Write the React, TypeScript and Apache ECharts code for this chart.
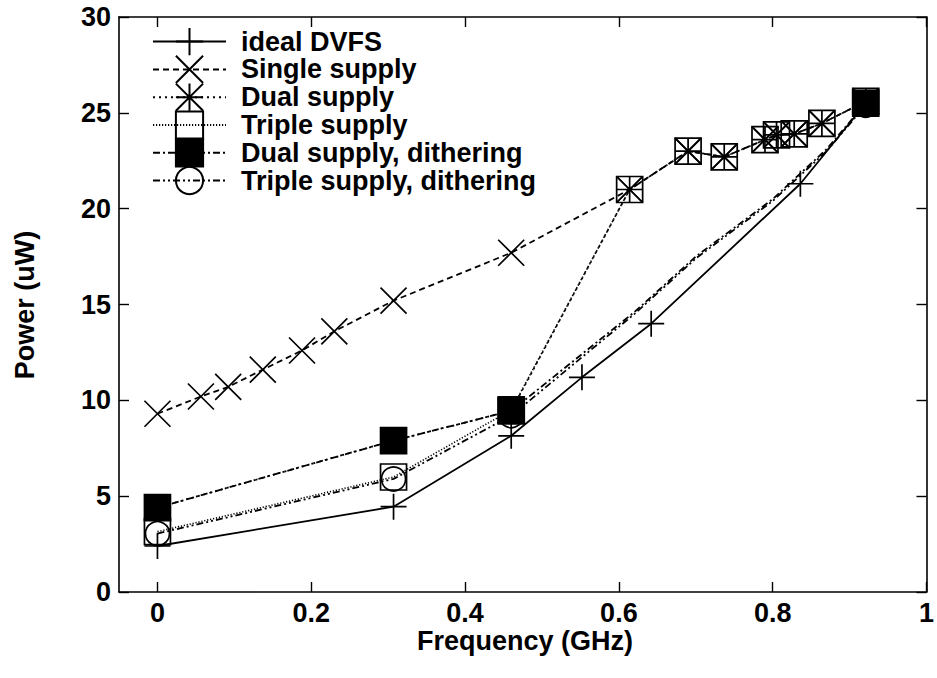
import React, { useEffect, useRef } from "react";
import * as echarts from "echarts";

// ---- data ----
const xTicks = [0, 0.2, 0.4, 0.6, 0.8, 1];

const idealX = [0, 0.307, 0.46, 0.552, 0.642, 0.836, 0.921];
const idealY = [2.4, 4.45, 8.15, 11.2, 14.0, 21.3, 25.5];

const singleX = [0, 0.0565, 0.092, 0.137, 0.188, 0.23, 0.307, 0.46, 0.614, 0.69, 0.737, 0.79, 0.805, 0.828, 0.864, 0.921];
const singleY = [9.3, 10.2, 10.7, 11.6, 12.6, 13.6, 15.2, 17.7, 21.0, 23.0, 22.7, 23.6, 23.85, 23.9, 24.45, 25.6];

const dualX = [0, 0.307, 0.46, 0.614, 0.69, 0.737, 0.79, 0.805, 0.828, 0.864, 0.921];
const dualY = [4.4, 7.9, 9.45, 21.0, 23.0, 22.7, 23.6, 23.85, 23.9, 24.45, 25.6];

const tripleX = [0, 0.307, 0.46, 0.614, 0.69, 0.737, 0.79, 0.805, 0.828, 0.864, 0.921];
const tripleY = [3.15, 6.0, 9.5, 21.0, 23.0, 22.7, 23.6, 23.85, 23.9, 24.45, 25.6];

const dualDithX = [0, 0.307, 0.46, 0.62, 0.70, 0.80, 0.87, 0.921];
const dualDithY = [4.4, 7.9, 9.45, 14.6, 17.5, 20.5, 23.1, 25.5];
const dualDithMarked = [true, true, true, false, false, false, false, true];

const tripleDithX = [0, 0.307, 0.46, 0.62, 0.70, 0.80, 0.87, 0.921];
const tripleDithY = [3.05, 5.9, 9.2, 14.5, 17.4, 20.4, 23.0, 25.4];
const tripleDithMarked = [true, true, true, false, false, false, false, true];

const seriesNames = [
  "ideal DVFS",
  "Single supply",
  "Dual supply",
  "Triple supply",
  "Dual supply, dithering",
  "Triple supply, dithering",
];

// ---- styling ----
const FONT = "Liberation Sans, Arial, Helvetica, sans-serif";
const FS = 27;
const PLUS = "path://M5,0L5,10M0,5L10,5";
const CROSS = "path://M0,0L10,10M10,0L0,10";
const STAR = "path://M0,0L10,10M10,0L0,10M5,0L5,10M0,5L10,5";

function pairs(xs: number[], ys: number[], marked?: boolean[]) {
  return xs.map((x, i) => {
    if (marked && !marked[i]) return { value: [x, ys[i]], symbol: "none" };
    return { value: [x, ys[i]] };
  });
}

function mkSeries(
  name: string,
  data: any[],
  symbol: string,
  size: number,
  dash: any,
  lw: number,
  filled: boolean
) {
  return {
    name,
    type: "line",
    data,
    symbol,
    symbolSize: size,
    showSymbol: true,
    clip: false,
    lineStyle: { color: "#000", width: lw, type: dash },
    itemStyle: {
      color: filled ? "#000" : "transparent",
      borderColor: "#000",
      borderWidth: 1.7,
    },
    emphasis: { disabled: true },
  };
}

export default function App() {
  const ref = useRef<HTMLDivElement>(null);

  useEffect(() => {
    if (!ref.current) return;
    const chart = echarts.init(ref.current, null, { renderer: "svg" });

    const labelStyle = {
      fontFamily: FONT,
      fontWeight: "bold" as const,
      fontSize: FS,
      color: "#000",
    };

    const option: any = {
      animation: false,
      backgroundColor: "#fff",
      grid: { left: 119, right: 6, top: 17, bottom: 86, containLabel: false },
      xAxis: [
        {
          type: "value",
          min: -0.05,
          max: 1,
          position: "bottom",
          axisLine: { show: true, onZero: false, lineStyle: { color: "#000", width: 1.6 } },
          axisTick: { show: true, inside: true, length: 10, customValues: xTicks, lineStyle: { color: "#000", width: 1.4 } },
          axisLabel: { show: true, customValues: xTicks, margin: 7, ...labelStyle },
          splitLine: { show: false },
        },
        {
          type: "value",
          min: -0.05,
          max: 1,
          position: "top",
          axisLine: { show: true, onZero: false, lineStyle: { color: "#000", width: 1.6 } },
          axisTick: { show: true, inside: true, length: 10, customValues: xTicks, lineStyle: { color: "#000", width: 1.4 } },
          axisLabel: { show: false },
          splitLine: { show: false },
        },
      ],
      yAxis: [
        {
          type: "value",
          min: 0,
          max: 30,
          interval: 5,
          position: "left",
          axisLine: { show: true, onZero: false, lineStyle: { color: "#000", width: 1.6 } },
          axisTick: { show: true, inside: true, length: 10, lineStyle: { color: "#000", width: 1.4 } },
          axisLabel: { show: true, margin: 8, ...labelStyle },
          splitLine: { show: false },
        },
        {
          type: "value",
          min: 0,
          max: 30,
          interval: 5,
          position: "right",
          axisLine: { show: true, onZero: false, lineStyle: { color: "#000", width: 1.6 } },
          axisTick: { show: true, inside: true, length: 10, lineStyle: { color: "#000", width: 1.4 } },
          axisLabel: { show: false },
          splitLine: { show: false },
        },
      ],
      legend: {
        orient: "vertical",
        left: 152,
        top: 27,
        padding: 0,
        itemWidth: 73,
        itemHeight: 34,
        itemGap: -1.4,
        selectedMode: false,
        data: seriesNames,
        textStyle: { ...labelStyle, lineHeight: 27, padding: [0, 0, 0, 10] },
      },
      graphic: [
        {
          type: "text",
          x: 25,
          y: 305,
          rotation: Math.PI / 2,
          style: {
            text: "Power (uW)",
            fontFamily: FONT,
            fontWeight: "bold",
            fontSize: FS,
            fill: "#000",
            textAlign: "center",
            textVerticalAlign: "middle",
          },
        },
        {
          type: "text",
          x: 525,
          y: 641,
          style: {
            text: "Frequency (GHz)",
            fontFamily: FONT,
            fontWeight: "bold",
            fontSize: FS,
            fill: "#000",
            textAlign: "center",
            textVerticalAlign: "middle",
          },
        },
      ],
      series: [
        mkSeries(seriesNames[0], pairs(idealX, idealY), PLUS, 26, "solid", 1.8, false),
        mkSeries(seriesNames[1], pairs(singleX, singleY), CROSS, 26, [6, 4], 1.8, false),
        mkSeries(seriesNames[2], pairs(dualX, dualY), STAR, 26, [2, 4], 1.8, false),
        mkSeries(seriesNames[3], pairs(tripleX, tripleY), "rect", 26, [1.2, 1.8], 1.6, false),
        mkSeries(seriesNames[4], pairs(dualDithX, dualDithY, dualDithMarked), "rect", 26, [7, 3, 2, 3], 1.8, true),
        mkSeries(seriesNames[5], pairs(tripleDithX, tripleDithY, tripleDithMarked), "circle", 24, [7, 3, 2, 3, 2, 3], 1.8, false),
      ],
    };

    chart.setOption(option);
    return () => chart.dispose();
  }, []);

  return (
    <div
      ref={ref}
      style={{ position: "fixed", left: 0, top: 0, width: 937, height: 678, background: "#fff" }}
    />
  );
}
